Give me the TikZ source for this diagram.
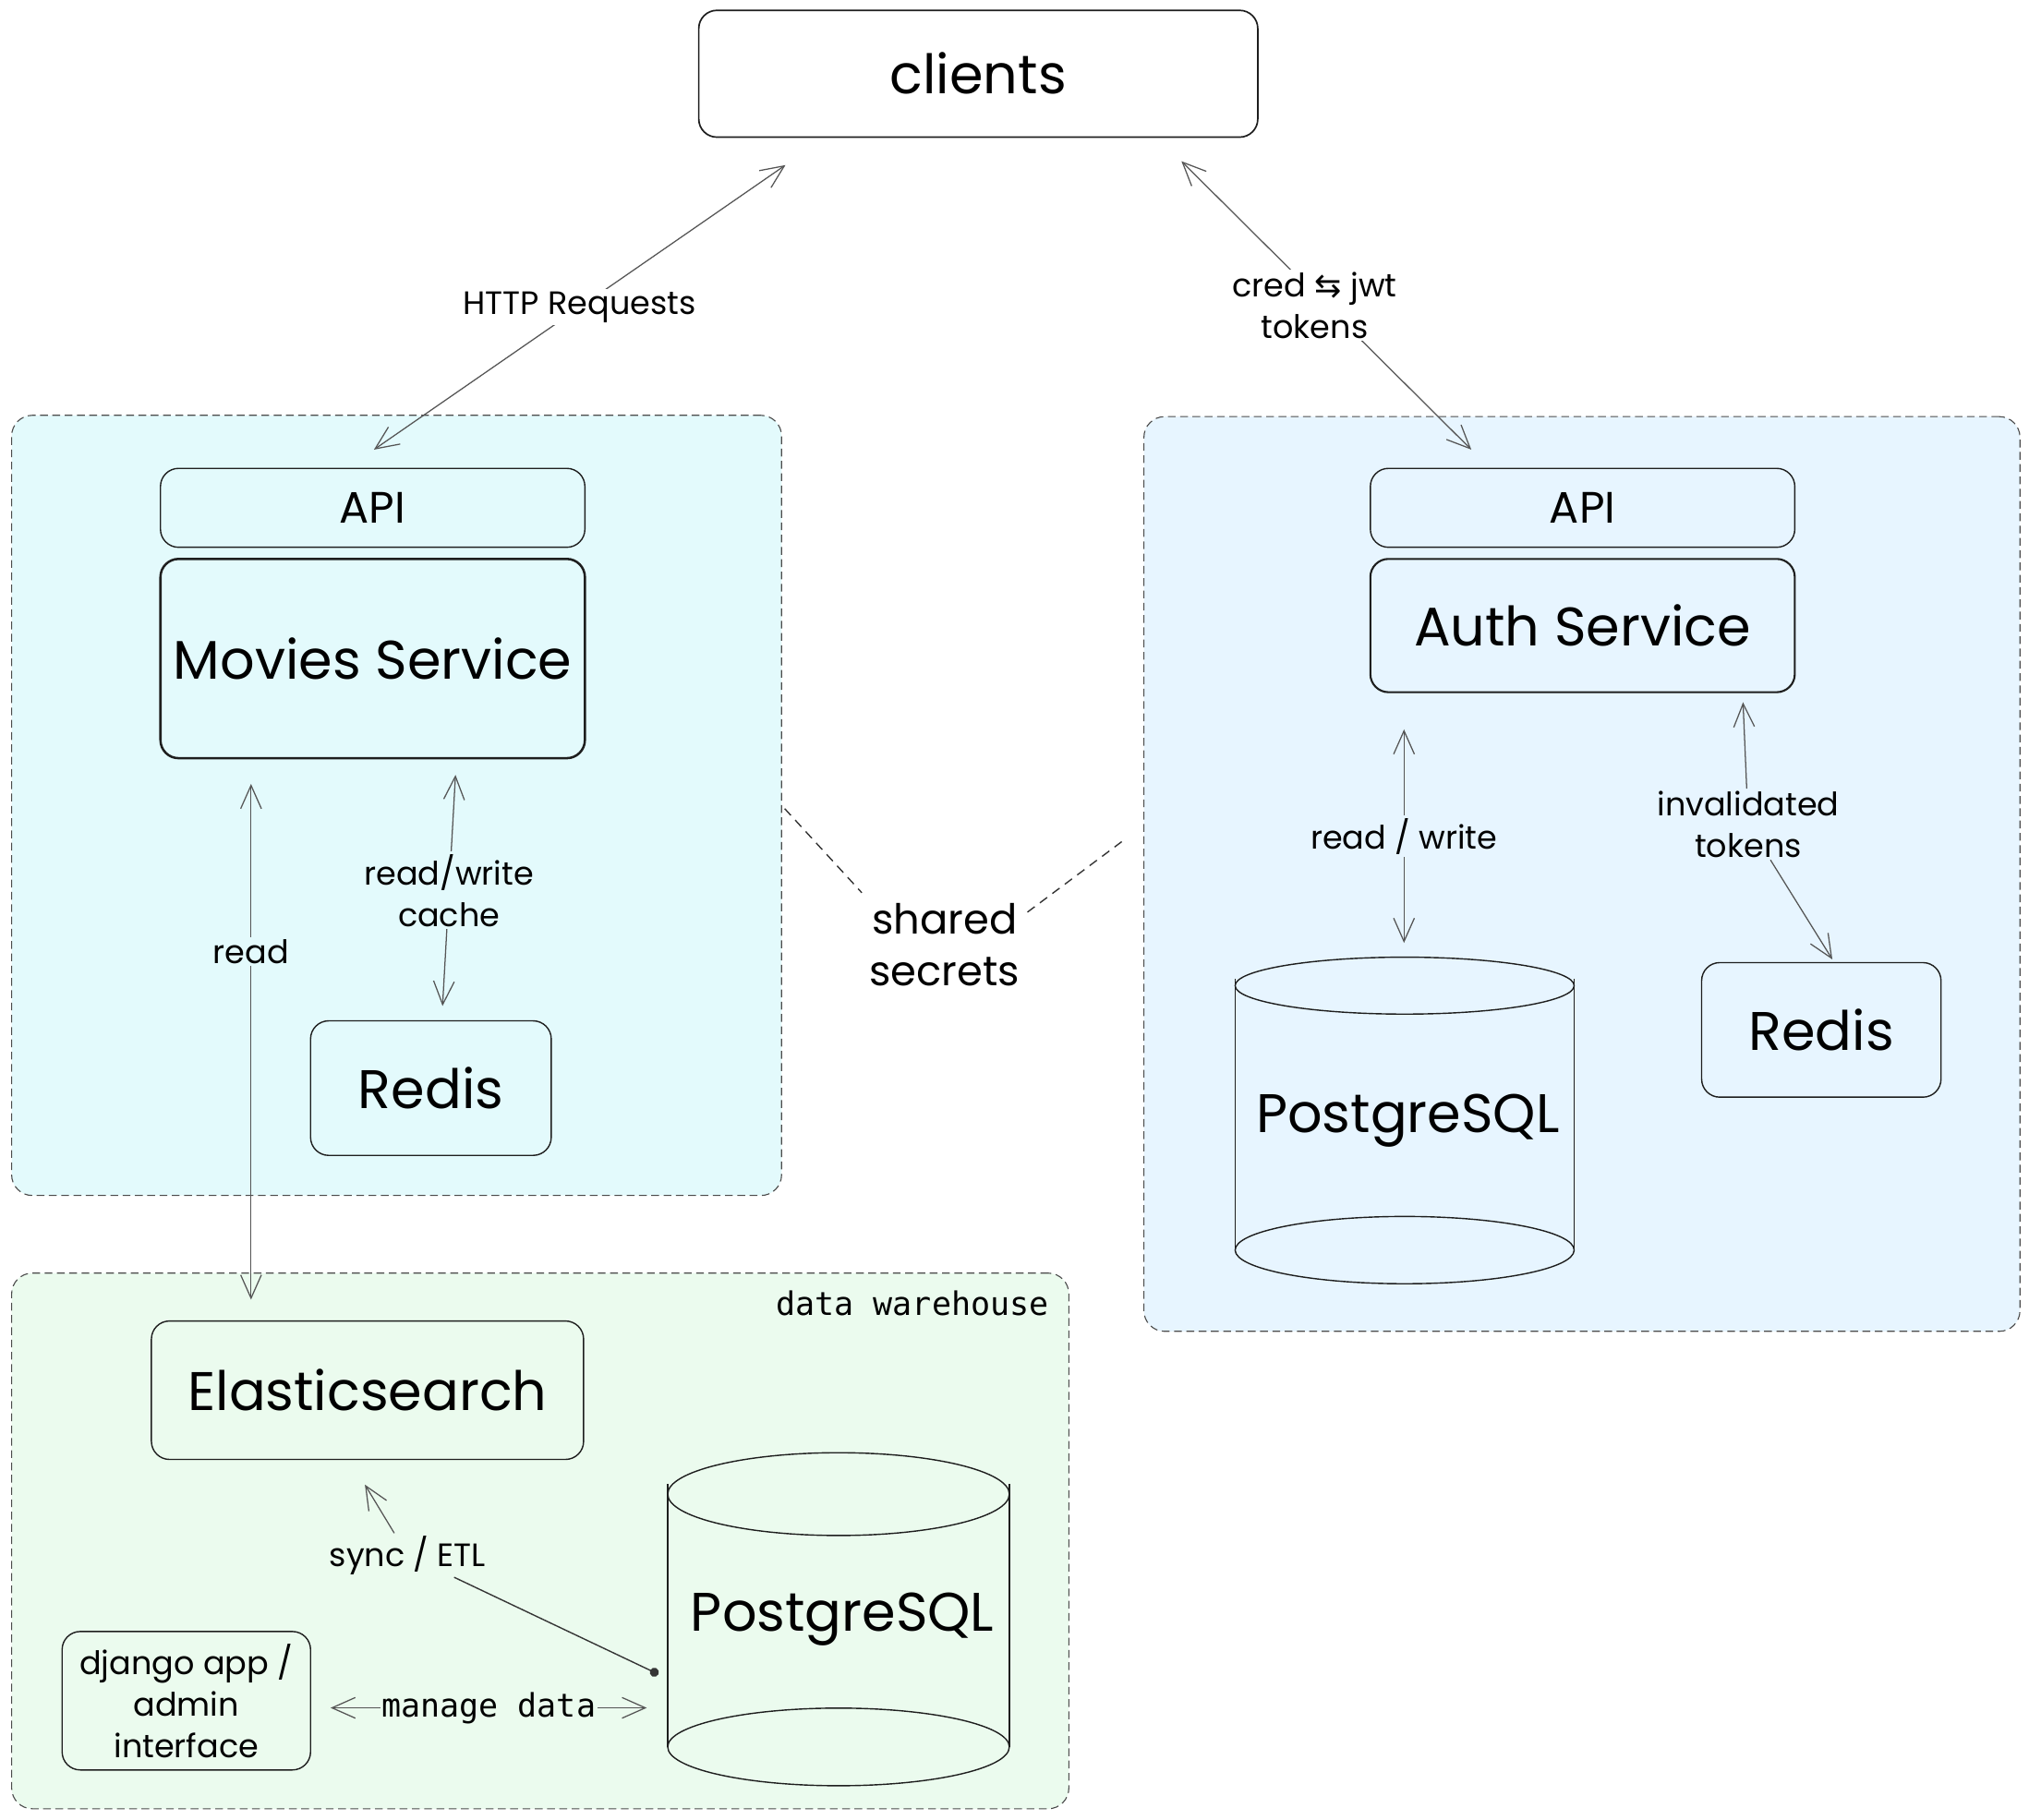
\documentclass[tikz,border=0pt]{standalone}
\usepackage{fontspec}
\setmainfont{Poppins}
\newfontfamily\monof{DejaVu Sans Mono}
\newfontfamily\symf{DejaVu Sans}
\usetikzlibrary{arrows.meta,calc}
\definecolor{ink}{HTML}{1E1E1E}
\definecolor{arr}{HTML}{555555}
\definecolor{cyanbg}{HTML}{E3FAFC}
\definecolor{bluebg}{HTML}{E7F5FF}
\definecolor{greenbg}{HTML}{EBFBEE}
\begin{document}
\begin{tikzpicture}[x=1pt,y=-1pt,
  box/.style={draw=ink, line width=1pt, rounded corners=14pt, inner sep=0pt, align=center},
  thickbox/.style={box, line width=1.8pt},
  grp/.style={draw=ink!80, line width=0.8pt, dash pattern=on 6pt off 3.5pt, rounded corners=16pt, inner sep=0pt},
  bigtxt/.style={font=\fontsize{42}{46}\selectfont},
  apitxt/.style={font=\fontsize{34}{36}\selectfont},
  midtxt/.style={font=\fontsize{32}{40}\selectfont, align=center},
  smalltxt/.style={font=\fontsize{25}{32}\selectfont, align=center, inner sep=2pt},
  monotxt/.style={font=\monof\fontsize{25}{28}\selectfont},
  conn/.style={draw=arr, line width=0.9pt, line cap=round, {Straight Barb[length=18pt,width=16pt]}-{Straight Barb[length=18pt,width=16pt]}},
  endarrow/.style={draw=arr, line width=0.9pt, line cap=round, -{Straight Barb[length=18pt,width=16pt]}},
  startarrow/.style={draw=arr, line width=0.9pt, line cap=round, {Straight Barb[length=18pt,width=16pt]}-},
  dotstart/.style={draw=ink!90, line width=1pt, line cap=round, {Circle[length=7pt]}-},
  dbline/.style={draw=ink, line width=1pt},
  sharedline/.style={draw=ink!90, line width=1pt, dash pattern=on 7pt off 5pt}
]
\useasboundingbox (0,0) rectangle (1568,1406);

% groups
\node[grp, fill=cyanbg, minimum width=595pt, minimum height=603pt] (mg) at (306.5,622.5) {};
\node[grp, fill=bluebg, minimum width=677pt, minimum height=707pt] (ag) at (1222.5,675.5) {};
\node[grp, fill=greenbg, minimum width=817pt, minimum height=414pt] (dw) at (417.5,1191) {};
\node[monotxt, anchor=east] (dwl) at (814,1007) {data warehouse};

% clients
\node[box, fill=white, line width=1.2pt, minimum width=432pt, minimum height=98pt, bigtxt] (cl) at (756,57) {clients};

% movies
\node[box, minimum width=328pt, minimum height=61pt, apitxt] (mapi) at (288,392.5) {API};
\node[thickbox, minimum width=328pt, minimum height=154pt, bigtxt] (ms) at (288,509) {Movies Service};
\node[box, minimum width=186pt, minimum height=104pt, bigtxt] (rM) at (333,841) {Redis};

% auth
\node[box, minimum width=328pt, minimum height=61pt, apitxt] (aapi) at (1223,392.5) {API};
\node[thickbox, line width=1.5pt, minimum width=328pt, minimum height=103pt, bigtxt] (as) at (1223,483.5) {Auth Service};
\node[box, minimum width=185pt, minimum height=104pt, bigtxt] (rA) at (1407.5,796) {Redis};
\node[inner sep=0pt, minimum width=265pt, minimum height=252pt, bigtxt] (pgA) at (1088,866) {PostgreSQL};
\draw[dbline] ($(pgA.north)+(-2.5,22)$) ellipse [x radius=131pt, y radius=22pt];
\draw[dbline] ($(pgA.south)+(-2.5,-26)$) ellipse [x radius=131pt, y radius=26pt];
\draw[dbline] ($(pgA.north)+(-133.5,17)$) -- ($(pgA.south)+(-133.5,-26)$);
\draw[dbline] ($(pgA.north)+(128.5,17)$) -- ($(pgA.south)+(128.5,-26)$);

% data warehouse
\node[box, minimum width=334pt, minimum height=107pt, bigtxt] (es) at (284,1074.5) {Elasticsearch};
\node[box, minimum width=192pt, minimum height=107pt, smalltxt] (dj) at (144,1314.5) {django app /\\admin\\interface};
\node[inner sep=0pt, minimum width=266pt, minimum height=257pt, bigtxt] (pgD) at (651,1251.5) {PostgreSQL};
\draw[dbline] ($(pgD.north)+(-3,32)$) ellipse [x radius=132pt, y radius=32pt];
\draw[dbline] ($(pgD.south)+(-3,-30)$) ellipse [x radius=132pt, y radius=30pt];
\draw[dbline] ($(pgD.north)+(-135,24)$) -- ($(pgD.south)+(-135,-30)$);
\draw[dbline] ($(pgD.north)+(129,24)$) -- ($(pgD.south)+(129,-30)$);

% connectors
\draw[conn] ($(mapi.north)+(1,-14)$) -- node[smalltxt, fill=white] {HTTP Requests} ($(cl.south)+(-149,21)$);
\draw[conn] ($(aapi.north)+(-86,-14)$) -- node[smalltxt, fill=white, xshift=-9pt] {cred {\symf ⇆} jwt\\tokens} ($(cl.south)+(157,18)$);
\draw[conn] ($(ms.south)+(-94,19)$) -- node[pos=0.325, smalltxt, fill=cyanbg] {read} ($(es.north)+(-90,-16)$);
\draw[conn] ($(ms.south)+(64,12)$) -- node[smalltxt, fill=cyanbg] {read/write\\cache} ($(rM.north)+(9,-11)$);
\draw[conn] ($(as.south)+(-138,28)$) -- node[smalltxt, fill=bluebg] {read / write} ($(as.south)+(-138,193)$);
\node[smalltxt, fill=bluebg] (itok) at (1351,637) {invalidated\\tokens};
\draw[startarrow] ($(as.south)+(124,7)$) -- (itok);
\draw[endarrow] (itok) -- ($(rA.north)+(8.5,-2)$);
\node[smalltxt, fill=greenbg] (setl) at (315,1202) {sync / ETL};
\draw[dotstart] ($(pgD.west)+(-9,42.5)$) -- (setl);
\draw[endarrow] (setl) -- ($(es.south)+(-2,19)$);
\draw[conn] ($(dj.east)+(15,5.5)$) -- node[monotxt, fill=greenbg, inner sep=1pt] {manage data} ($(pgD.west)+(-18,68.5)$);

% shared secrets
\node[midtxt] (ss) at (730,730) {shared\\secrets};
\draw[sharedline] ($(mg.east)+(2,2.5)$) -- ($(ss.center)+(-64,-40)$);
\draw[sharedline] ($(ss.center)+(64,-25)$) -- ($(ag.west)+(-16,-25.5)$);
\end{tikzpicture}
\end{document}
